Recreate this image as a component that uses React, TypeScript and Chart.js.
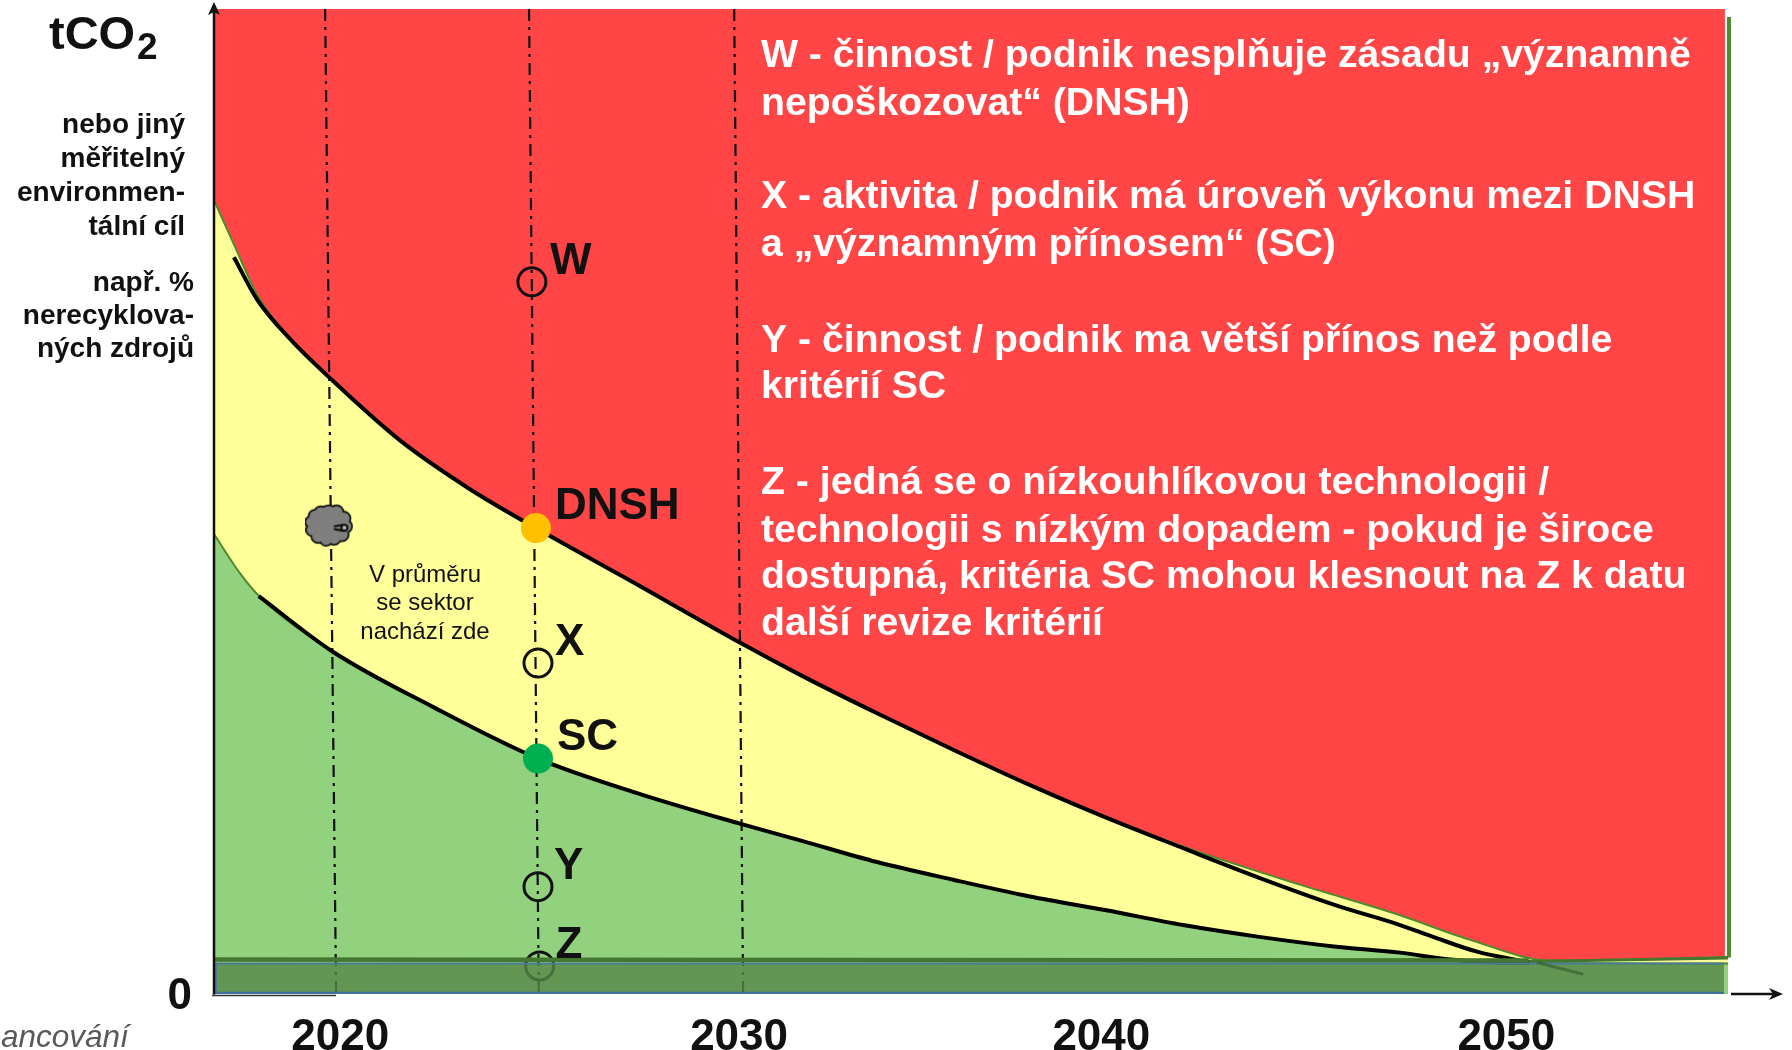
import React, { useEffect, useRef } from "react";
import { Chart, registerables } from "chart.js";

Chart.register(...registerables);

// ---- data, in years (x) and % of the initial level (y) ----
const xTickValues = [2020.1, 2029.9, 2038.8, 2048.75];
const xTickLabels = ["2020", "2030", "2040", "2050"];
const yTickValues = [0];

const topX = [2017, 2054.12];
const topY = [100, 100];

const dnshEdgeX = [2017, 2017.5, 2018.06, 2018.89, 2019.83, 2021.57, 2023.27, 2024.91, 2027.47, 2029.95, 2031.4, 2033.29, 2035.16, 2037.05, 2038.92, 2041.28, 2043.68, 2046.14, 2047.86, 2049.85, 2054.2];
const dnshEdgeY = [80.6, 76.0, 71.0, 66.4, 62.6, 56.2, 51.3, 47.3, 41.4, 35.6, 32.4, 28.5, 24.8, 21.2, 17.9, 14.3, 11.1, 8.0, 5.5, 3.4, 3.76];

const dnshLineX = [2017.49, 2018.06, 2018.89, 2019.83, 2021.57, 2023.27, 2024.91, 2027.47, 2029.95, 2031.4, 2033.29, 2035.16, 2037.05, 2038.92, 2040.81, 2042.68, 2044.57, 2046.14, 2046.95, 2048.03, 2049.33];
const dnshLineY = [74.8, 70.5, 66.4, 62.6, 56.2, 51.3, 47.3, 41.4, 35.6, 32.4, 28.5, 24.8, 21.2, 17.9, 14.8, 11.8, 9.0, 7.0, 5.8, 4.3, 3.2];

const scEdgeX = [2017, 2017.64, 2018.13, 2019.9, 2022.4, 2024.96, 2027.47, 2029.92, 2031.4, 2033.29, 2035.16, 2037.05, 2038.92, 2040.81, 2042.68, 2044.57, 2046.14, 2047.37, 2048.4, 2049.33, 2054.2];
const scEdgeY = [46.7, 42.7, 40.3, 34.8, 29.1, 23.9, 20.3, 17.3, 15.6, 13.4, 11.6, 9.9, 8.5, 7.0, 5.8, 4.8, 4.2, 3.5, 3.2, 3.15, 3.1];

const scLineX = [2018.1, 2019.9, 2022.4, 2024.96, 2027.47, 2029.92, 2031.4, 2033.29, 2035.16, 2037.05, 2038.92, 2040.81, 2042.68, 2044.57, 2046.14, 2047.37, 2048.4, 2049.33];
const scLineY = [40.4, 34.8, 29.1, 23.9, 20.3, 17.3, 15.6, 13.4, 11.6, 9.9, 8.5, 7.0, 5.8, 4.8, 4.2, 3.5, 3.2, 3.15];

const tailX = [2049.5, 2050.64];
const tailY = [3.2, 2.0];

const guide2020X = [2019.73, 2020];
const guide2025X = [2024.74, 2024.98];
const guide2030X = [2029.78, 2030];
const guideY = [100, 0];

const bandX = [2017, 2054.1];
const bandY = [3.1, 3.1];
const bandBottomY = [0.1, 0.1];
const bandSideY = [3.1, 0.1];
const rimLeftX = [2017, 2049.3];
const rimLeftY = [3.5, 3.4];
const rimRightX = [2049.3, 2054.2];
const rimRightY = [3.3, 3.65];

const openNames = ["W", "X", "Y", "Z"];
const openX = [2024.81, 2024.96, 2024.96, 2025.0];
const openY = [72.3, 33.6, 10.9, 2.85];

const solidNames = ["DNSH", "SC"];
const solidX = [2024.91, 2024.96];
const solidY = [47.3, 23.9];

const sectorX = [2019.83];
const sectorY = [47.6];

const yAxisNote1 = ["nebo jiný", "měřitelný", "environmen-", "tální cíl"];
const yAxisNote2 = ["např. %", "nerecyklova-", "ných zdrojů"];
const sectorNote = ["V průměru", "se sektor", "nachází zde"];
const legendLines: (string | null)[] = [
  "W - činnost / podnik nesplňuje zásadu „významně",
  "nepoškozovat“ (DNSH)",
  null,
  "X - aktivita / podnik má úroveň výkonu mezi DNSH",
  "a „významným přínosem“ (SC)",
  null,
  "Y - činnost / podnik ma větší přínos než podle",
  "kritérií SC",
  null,
  "Z - jedná se o nízkouhlíkovou technologii /",
  "technologii s nízkým dopadem - pokud je široce",
  "dostupná, kritéria SC mohou klesnout na Z k datu",
  "další revize kritérií",
];

// ---- layout and style ----
const FONT = '"Liberation Sans", Arial, sans-serif';
const RED = "#FF4545";
const YELLOW = "#FFFF99";
const GREEN = "#92D27E";
const EDGE = "#4E8A2E";

const zip = (xs: number[], ys: number[]) => xs.map((x, i) => ({ x, y: ys[i] }));

function makeCloud(): HTMLCanvasElement {
  const c = document.createElement("canvas");
  c.width = 48;
  c.height = 45;
  const g = c.getContext("2d")!;
  g.scale(0.87, 0.88);
  const lobes: [number, number, number][] = [
    [27, 13, 9], [18, 12, 7], [36, 11, 7], [44, 18, 7], [47, 27, 6], [42, 36, 7], [33, 40, 7],
    [24, 42, 6], [15, 38, 7], [8, 31, 6], [7, 22, 6], [11, 15, 6], [27, 26, 16],
  ];
  g.lineWidth = 4;
  g.strokeStyle = "#111";
  g.fillStyle = "#7F7F7F";
  lobes.forEach(([x, y, r]) => { g.beginPath(); g.arc(x, y, r, 0, Math.PI * 2); g.stroke(); });
  lobes.forEach(([x, y, r]) => { g.beginPath(); g.arc(x, y, r, 0, Math.PI * 2); g.fill(); });
  g.lineWidth = 2.5;
  g.beginPath(); g.moveTo(33, 27); g.lineTo(44, 25); g.stroke();
  g.beginPath(); g.moveTo(33, 30); g.lineTo(44, 32); g.stroke();
  g.fillStyle = "#bbb";
  g.beginPath(); g.arc(45, 28.5, 3.5, 0, Math.PI * 2); g.fill(); g.stroke();
  return c;
}

const annotate = {
  id: "annotate",
  afterDraw(chart: any) {
    const { ctx, chartArea: a, scales } = chart;
    const sx = scales.x;
    const sy = scales.y;
    ctx.save();

    // axis arrows
    const y0 = a.bottom;
    ctx.strokeStyle = "#111";
    ctx.fillStyle = "#111";
    ctx.lineWidth = 2.5;
    ctx.beginPath(); ctx.moveTo(a.left, y0 + 0.5); ctx.lineTo(a.left, a.top - 3); ctx.stroke();
    ctx.beginPath(); ctx.moveTo(a.right, y0); ctx.lineTo(a.right + 46, y0); ctx.stroke();
    ctx.beginPath();
    ctx.moveTo(a.left, a.top - 7); ctx.lineTo(a.left - 6, a.top + 6); ctx.lineTo(a.left, a.top + 3); ctx.lineTo(a.left + 6, a.top + 6);
    ctx.closePath(); ctx.fill();
    ctx.beginPath();
    ctx.moveTo(a.right + 52, y0); ctx.lineTo(a.right + 38, y0 - 6); ctx.lineTo(a.right + 42, y0); ctx.lineTo(a.right + 38, y0 + 6);
    ctx.closePath(); ctx.fill();
    ctx.lineWidth = 1.5;
    ctx.strokeStyle = "#333";
    ctx.beginPath(); ctx.moveTo(a.left - 2, y0 + 1.5); ctx.lineTo(a.left + 122, y0 + 1.5); ctx.stroke();

    // y tick
    ctx.textBaseline = "middle";
    ctx.textAlign = "right";
    ctx.fillStyle = "#111";
    ctx.font = `bold 44px ${FONT}`;
    yTickValues.forEach((v) => ctx.fillText(String(v), a.left - 22, sy.getPixelForValue(v) + 3));

    // labels of the points
    ctx.textAlign = "left";
    const labelOffsets: Record<string, [number, number]> = {
      W: [18, -20], X: [17, -20], Y: [16, -20], Z: [16, -20], DNSH: [19, -21], SC: [19, -21],
    };
    openNames.forEach((n, i) => {
      const [dx, dy] = labelOffsets[n];
      ctx.fillText(n, sx.getPixelForValue(openX[i]) + dx, sy.getPixelForValue(openY[i]) + dy);
    });
    solidNames.forEach((n, i) => {
      const [dx, dy] = labelOffsets[n];
      ctx.fillText(n, sx.getPixelForValue(solidX[i]) + dx, sy.getPixelForValue(solidY[i]) + dy);
    });

    // sector note
    ctx.textAlign = "center";
    ctx.font = `24px ${FONT}`;
    sectorNote.forEach((t, i) => ctx.fillText(t, 425, 575 + i * 28.5));

    // legend text on the red area
    ctx.textAlign = "left";
    ctx.fillStyle = "#fff";
    ctx.font = `bold 39.2px ${FONT}`;
    const lineY = [56, 104, 0, 197, 245, 0, 341, 387, 0, 483, 531, 577, 624];
    legendLines.forEach((t, i) => { if (t) ctx.fillText(t, 761, lineY[i]); });

    // y-axis title and notes
    ctx.fillStyle = "#111";
    ctx.font = `bold 47px ${FONT}`;
    ctx.fillText("tCO", 49, 36);
    ctx.font = `bold 37px ${FONT}`;
    ctx.fillText("2", 137, 49);
    ctx.textAlign = "right";
    ctx.font = `bold 28px ${FONT}`;
    yAxisNote1.forEach((t, i) => ctx.fillText(t, 185, 125 + i * 34));
    yAxisNote2.forEach((t, i) => ctx.fillText(t, 194, 283 + i * 33));

    // clipped footer word
    ctx.textAlign = "left";
    ctx.fillStyle = "#595959";
    ctx.font = `italic 31.5px ${FONT}`;
    ctx.fillText("ancování", 1, 1038);
    ctx.restore();
  },
};

export default function App() {
  const ref = useRef<HTMLCanvasElement | null>(null);

  useEffect(() => {
    const smooth = { cubicInterpolationMode: "monotone" };
    const layers: any[] = [
      { label: "Nad DNSH", data: zip(topX, topY), fill: "start", backgroundColor: RED, borderWidth: 0 },
      { label: "Mezi DNSH a SC", data: zip(dnshEdgeX, dnshEdgeY), fill: "start", backgroundColor: YELLOW, borderColor: EDGE, borderWidth: 2, ...smooth },
      { label: "Pod SC", data: zip(scEdgeX, scEdgeY), fill: "start", backgroundColor: GREEN, borderColor: EDGE, borderWidth: 2, ...smooth },
      { label: "Pravý okraj", data: zip([2054.22, 2054.22], [99.2, 3.7]), borderColor: EDGE, borderWidth: 4 },
      ...[guide2020X, guide2025X, guide2030X].map((xs, i) => ({
        label: `Svislice ${i}`, data: zip(xs, guideY), borderColor: "#111", borderWidth: 2.2, borderDash: [12, 6, 3, 6],
      })),
      { label: "DNSH", data: zip(dnshLineX, dnshLineY), borderColor: "#000", borderWidth: 4, ...smooth },
      { label: "SC", data: zip(scLineX, scLineY), borderColor: "#000", borderWidth: 4, ...smooth },
      { label: "Body", data: zip(openX, openY), showLine: false, pointRadius: 14, pointBorderWidth: 3, pointBorderColor: "#111", pointBackgroundColor: "transparent", clip: false },
      { label: "Lem pásma", data: zip(rimLeftX, rimLeftY), borderColor: "#44782E", borderWidth: 4.5 },
      { label: "Lem pásma vpravo", data: zip(rimRightX, rimRightY), borderColor: "#44782E", borderWidth: 3 },
      { label: "Pásmo", data: zip(bandX, bandY), fill: "start", backgroundColor: "rgba(87,135,72,0.8)", borderWidth: 0 },
      { label: "Okraj pásma", data: zip(bandX, bandY), borderColor: "#4A7C96", borderWidth: 2 },
      { label: "Dno pásma", data: zip(bandX, bandBottomY), borderColor: "#3F6F9A", borderWidth: 2.5 },
      { label: "Levý okraj pásma", data: zip([2017.05, 2017.05], bandSideY), borderColor: "#4A7C96", borderWidth: 2 },
      { label: "Dozvuk", data: zip(tailX, tailY), borderColor: "rgba(60,100,50,0.75)", borderWidth: 3 },
      { label: "DNSH bod", data: zip([solidX[0]], [solidY[0]]), showLine: false, pointRadius: 15, pointBackgroundColor: "#FFC000", pointBorderWidth: 0 },
      { label: "SC bod", data: zip([solidX[1]], [solidY[1]]), showLine: false, pointRadius: 15, pointBackgroundColor: "#00B050", pointBorderWidth: 0 },
      { label: "Sektor", data: zip(sectorX, sectorY), showLine: false, pointStyle: makeCloud(), pointRadius: 22 },
    ];
    // Listed bottom to top; Chart.js paints higher `order` first.
    const datasets = layers.map((d, i) => ({
      pointRadius: 0,
      tension: 0,
      ...d,
      order: layers.length - i,
    }));

    const chart = new Chart(ref.current!, {
      type: "line",
      data: { datasets },
      plugins: [annotate],
      options: {
        animation: false,
        responsive: false,
        devicePixelRatio: 1,
        layout: { autoPadding: false, padding: { top: 9, right: 61, left: 0, bottom: 0 } },
        plugins: { legend: { display: false }, tooltip: { enabled: false } },
        scales: {
          x: {
            type: "linear",
            min: 2017,
            max: 2054.27,
            grid: { display: false },
            border: { display: false },
            afterFit(s: any) { s.height = 56; },
            afterBuildTicks(s: any) { s.ticks = xTickValues.map((value) => ({ value })); },
            ticks: {
              autoSkip: false,
              maxRotation: 0,
              padding: 9,
              color: "#111",
              font: { family: FONT, weight: "bold", size: 44 },
              callback: (v: any) => xTickLabels[xTickValues.indexOf(Number(v))] ?? "",
            },
          },
          y: {
            type: "linear",
            min: 0,
            max: 100,
            grid: { display: false },
            border: { display: false },
            afterFit(s: any) { s.width = 214; },
            ticks: { display: false },
          },
        },
      },
    } as any);
    return () => chart.destroy();
  }, []);

  return (
    <canvas
      ref={ref}
      width={1792}
      height={1050}
      style={{ position: "absolute", left: 0, top: 0, display: "block" }}
    />
  );
}
